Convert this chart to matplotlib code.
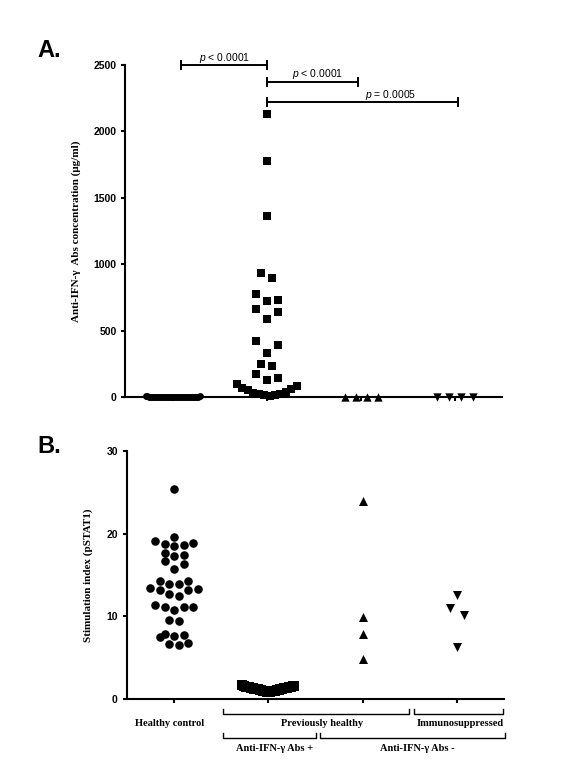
import numpy as np
import matplotlib
matplotlib.use("Agg")
import matplotlib.pyplot as plt
import matplotlib.transforms as mtransforms

plt.rcParams['font.family'] = ['Liberation Sans', 'DejaVu Sans']
plt.rcParams['mathtext.fontset'] = 'custom'
plt.rcParams['mathtext.it'] = 'Liberation Sans:italic'
plt.rcParams['mathtext.rm'] = 'Liberation Sans'

# Panel A: anti-IFN-gamma antibody concentration (ug/ml)
conc_healthy = [0, 0, 0, 1, 0, 2, 0, 0, 3, 1, 0, 0, 5, 0, 2, 0, 1, 0, 0,
                4, 0, 0, 2, 0, 1, 0, 6, 0, 0, 3, 0, 1, 0, 0, 2, 0, 8]
conc_abs_pos = [2130, 1780, 1365, 935, 900, 775, 720, 730, 665, 640, 590,
                420, 395, 330, 250, 230, 170, 140, 130,
                95, 85, 70, 60, 50, 40, 30, 25, 20, 15, 12, 10]
conc_abs_neg = [2, 3, 1, 4]
conc_immuno = [2, 1, 3, 2]

# Panel B: stimulation index (pSTAT1)
si_healthy = [25.4, 18.7, 18.5, 19.1, 19.6, 18.6, 18.9, 17.4, 17.3, 17.7,
              16.7, 16.3, 15.7, 13.9, 14.3, 14.3, 13.9, 13.4, 13.2, 13.2,
              13.3, 12.7, 12.5, 11.1, 11.1, 11.4, 10.8, 11.1, 9.6, 9.4,
              7.9, 7.6, 6.8, 6.5, 6.6, 7.5, 7.7]
si_abs_pos = [0.85, 0.88, 0.9, 0.92, 0.95, 0.97, 1.0, 1.02, 1.05, 1.07, 1.1,
              1.12, 1.15, 1.17, 1.2, 1.22, 1.25, 1.27, 1.3, 1.32, 1.35, 1.37,
              1.4, 1.42, 1.45, 1.48, 1.5, 1.53, 1.56, 1.6, 1.65]
si_abs_neg = [23.9, 9.9, 7.9, 4.8]
si_immuno = [12.6, 11.0, 10.2, 6.3]

# p-value comparisons in panel A: (from group, to group, height, text, text x)
comparisons = [(0.09, 1.0, 2500, "$p$ < 0.0001", 0.55),
               (1.0, 1.97, 2375, "$p$ < 0.0001", 1.54),
               (1.0, 3.03, 2220, "$p$ = 0.0005", 2.31)]

serif_bold = dict(family=['Liberation Serif', 'DejaVu Serif'], weight='bold')


def scatter_x(ax, x0, values, row_h, step, max_span):
    """Column-scatter layout (GraphPad style): points whose markers would
    overlap vertically share a row; the lowest sits in the middle and the
    rest fan out to both sides. All distances in pixels."""
    n = len(values)
    pts = ax.transData.transform(np.column_stack([np.full(n, x0),
                                                  np.asarray(values, float)]))
    ys = pts[:, 1]
    rows, cur, start = [], [], None
    for i in np.argsort(ys, kind='stable'):
        if cur and ys[i] - start > row_h:
            rows.append(cur)
            cur = []
        if not cur:
            start = ys[i]
        cur.append(i)
    rows.append(cur)
    offs = np.zeros(n)
    for row in rows:
        m = len(row)
        s = step if m < 2 else min(step, max_span / (m - 1))
        slots = (np.arange(m) - (m - 1) / 2) * s
        slots = sorted(slots, key=lambda v: (round(abs(v), 6), -v))
        for idx, sl in zip(row, slots):
            offs[idx] = sl
    back = ax.transData.inverted().transform(np.column_stack([pts[:, 0] + offs, ys]))
    return back[:, 0]


def style_axes(ax):
    for s in ['top', 'right']:
        ax.spines[s].set_visible(False)
    for s in ['left', 'bottom']:
        ax.spines[s].set_linewidth(1.5)
    ax.tick_params(axis='both', width=1.5, length=3, direction='out')
    ax.set_xlim(-0.5, 3.5)
    ax.set_xticks([0, 1, 2, 3])
    ax.set_xticklabels([])
    for lab in ax.get_yticklabels():
        lab.set_fontsize(7.5)
        lab.set_fontweight('bold')


fig = plt.figure(figsize=(5.64, 7.75), dpi=100)
ax_a = fig.add_axes([0.2225, 0.4877, 0.6684, 0.4284])
ax_b = fig.add_axes([0.2250, 0.0981, 0.6684, 0.3200])

# ---- Panel A ----
ax_a.set_ylim(0, 2500)
ax_a.set_yticks(np.arange(0, 2501, 500))
style_axes(ax_a)

# (x, values, marker, size, row height, step, max span)
groups_a = [(0, conc_healthy, 'o', 24, 10, 1.5, 54),
            (1, conc_abs_pos, 's', 33, 13, 11, 60),
            (2, conc_abs_neg, '^', 36, 10, 11, 60),
            (3, conc_immuno, 'v', 36, 10, 12, 60)]
for x0, vals, mk, size, rh, st, sp in groups_a:
    xs = scatter_x(ax_a, x0, vals, rh, st, sp)
    ax_a.scatter(xs, vals, marker=mk, s=size, color='black', linewidths=0,
                 clip_on=False, zorder=3)

cap = 30
for x1, x2, yb, txt, tx in comparisons:
    ax_a.plot([x1, x2], [yb, yb], color='black', lw=1.4, clip_on=False)
    ax_a.plot([x1, x1], [yb - cap, yb + cap], color='black', lw=1.4, clip_on=False)
    ax_a.plot([x2, x2], [yb - cap, yb + cap], color='black', lw=1.4, clip_on=False)
    ax_a.annotate(txt, (tx, yb), xytext=(0, 3), textcoords='offset points',
                  ha='center', va='baseline', fontsize=7.5, annotation_clip=False)

ax_a.set_ylabel("Anti-IFN-\u03b3  Abs concentration (\u03bcg/ml)", fontsize=8, **serif_bold)
ax_a.yaxis.set_label_coords(-0.117, 0.5)

# ---- Panel B ----
ax_b.set_ylim(0, 30)
ax_b.set_yticks([0, 10, 20, 30])
style_axes(ax_b)

groups_b = [(0, si_healthy, 'o', 38, 9, 9.5, 56),
            (1, si_abs_pos, 's', 44, 10, 2, 52),
            (2, si_abs_neg, '^', 42, 9, 13, 60),
            (3, si_immuno, 'v', 42, 9, 14, 60)]
for x0, vals, mk, size, rh, st, sp in groups_b:
    xs = scatter_x(ax_b, x0, vals, rh, st, sp)
    ax_b.scatter(xs, vals, marker=mk, s=size, color='black', linewidths=0,
                 clip_on=False, zorder=3)

ax_b.set_ylabel("Stimulation index (pSTAT1)", fontsize=8, **serif_bold)
ax_b.yaxis.set_label_coords(-0.09, 0.5)

# group brackets under panel B (x in data, y in axes fraction)
trans = mtransforms.blended_transform_factory(ax_b.transData, ax_b.transAxes)
brackets = [(0.52, 2.49, -0.060, -0.041),
            (2.545, 3.49, -0.060, -0.041),
            (0.52, 1.505, -0.158, -0.138),
            (1.548, 3.51, -0.158, -0.138)]
for x1, x2, yl, yt in brackets:
    ax_b.plot([x1, x1, x2, x2], [yt, yl, yl, yt], color='black', lw=1.0,
              transform=trans, clip_on=False)

group_labels = [(-0.05, -0.1, "Healthy control"),
                (1.574, -0.1, "Previously healthy"),
                (3.04, -0.1, "Immunosuppressed"),
                (1.065, -0.198, "Anti-IFN-\u03b3 Abs +"),
                (2.584, -0.198, "Anti-IFN-\u03b3 Abs -")]
for gx, gy, txt in group_labels:
    ax_b.text(gx, gy, txt, transform=trans, ha='center', va='center',
              fontsize=7.5, **serif_bold)

fig.text(0.067, 0.9265, "A.", fontsize=17, weight='bold', va='baseline')
fig.text(0.067, 0.4155, "B.", fontsize=17, weight='bold', va='baseline')

fig.savefig("out.png", dpi=100)
